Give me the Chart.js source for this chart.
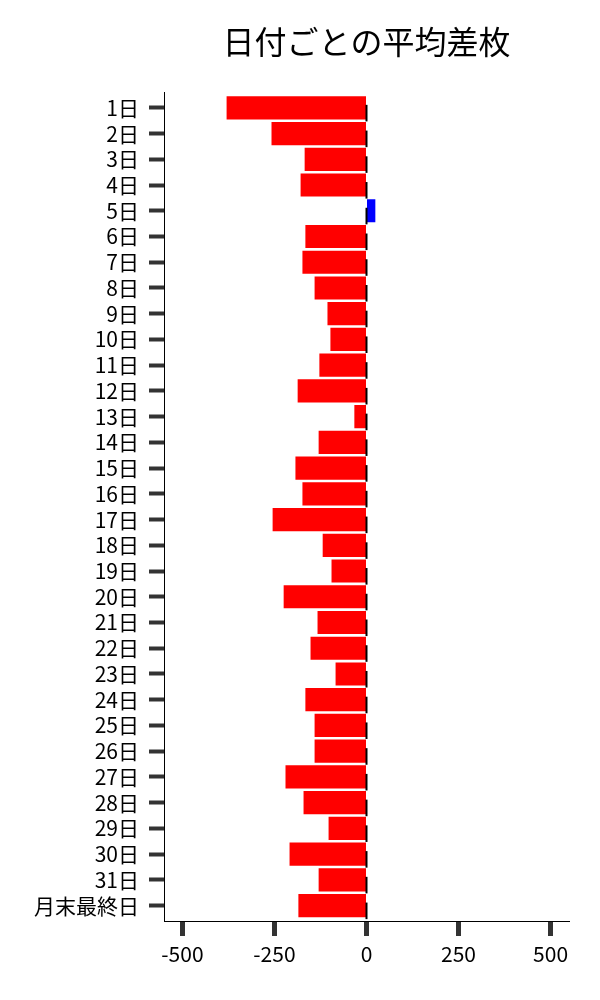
<!DOCTYPE html>
<html>
<head>
<meta charset="utf-8">
<script src="https://cdn.jsdelivr.net/npm/chart.js@4/dist/chart.umd.min.js"></script>
<style>
html,body{margin:0;padding:0;background:#fff;}
#wrap{width:600px;height:1000px;}
</style>
</head>
<body>
<div id="wrap"><canvas id="c" width="600" height="1000"></canvas></div>
<script>
const titleText = '日付ごとの平均差枚';
const categories = ['1日','2日','3日','4日','5日','6日','7日','8日','9日','10日','11日','12日','13日','14日','15日','16日','17日','18日','19日','20日','21日','22日','23日','24日','25日','26日','27日','28日','29日','30日','31日','月末最終日'];
const avgDiff = [-380,-258,-168,-179,24,-166,-174,-141,-106,-98,-128,-187,-33,-130,-193,-174,-255,-119,-95,-225,-133,-152,-84,-166,-141,-141,-220,-171,-103,-209,-130,-185];
const xTicks = [-500,-250,0,250,500];
const xMin = -550, xMax = 550;
const yMargin = 0.6;

const FONT = "'Noto Sans CJK JP', 'Noto Sans', sans-serif";

const zeroMarks = {
  id: 'zeroMarks',
  afterDatasetsDraw(chart) {
    const ctx = chart.ctx;
    const xs = chart.scales.x;
    const x0 = xs.getPixelForValue(0);
    const meta = chart.getDatasetMeta(0);
    ctx.save();
    ctx.strokeStyle = '#000';
    ctx.lineWidth = 2;
    meta.data.forEach(bar => {
      const h = bar.height;
      ctx.beginPath();
      ctx.moveTo(x0, bar.y - 3);
      ctx.lineTo(x0, bar.y + h / 2 + 2);
      ctx.stroke();
    });
    ctx.restore();
  }
};

new Chart(document.getElementById('c'), {
  type: 'bar',
  data: {
    datasets: [{
      data: avgDiff.map((v, i) => ({ x: v, y: i })),
      backgroundColor: avgDiff.map(v => v >= 0 ? '#0000ff' : '#ff0000'),
      borderWidth: 0,
      barPercentage: 0.9,
      categoryPercentage: 1.0
    }]
  },
  options: {
    indexAxis: 'y',
    responsive: false,
    devicePixelRatio: 1,
    animation: false,
    layout: { padding: { left: 0, right: 31, top: 0, bottom: 0 } },
    plugins: {
      legend: { display: false },
      tooltip: { enabled: false },
      title: {
        display: true,
        text: titleText,
        fullSize: false,
        color: '#000',
        font: { family: FONT, size: 32, weight: 'normal', lineHeight: 1.2 },
        padding: { top: 23, bottom: 31 }
      }
    },
    scales: {
      x: {
        type: 'linear',
        min: xMin,
        max: xMax,
        afterBuildTicks: s => { s.ticks = xTicks.map(v => ({ value: v })); },
        afterFit: s => { s.height = 79; },
        border: { display: true, color: '#000', width: 1 },
        grid: { drawOnChartArea: false, drawTicks: true, tickLength: 15, tickWidth: 5, tickColor: '#333' },
        ticks: { color: '#000', font: { family: FONT, size: 21 }, padding: 5 }
      },
      y: {
        type: 'linear',
        reverse: true,
        offset: false,
        min: -yMargin,
        max: categories.length - 1 + yMargin,
        afterBuildTicks: s => { s.ticks = categories.map((c, i) => ({ value: i })); },
        afterFit: s => { s.width = 164; },
        border: { display: true, color: '#000', width: 1 },
        grid: { offset: false, drawOnChartArea: false, drawTicks: true, tickLength: 15, tickWidth: 4, tickColor: '#333' },
        ticks: {
          color: '#000', font: { family: FONT, size: 21 }, padding: 10, autoSkip: false,
          callback: v => categories[v] !== undefined ? categories[v] : ''
        }
      }
    }
  },
  plugins: [zeroMarks]
});
</script>
</body>
</html>
